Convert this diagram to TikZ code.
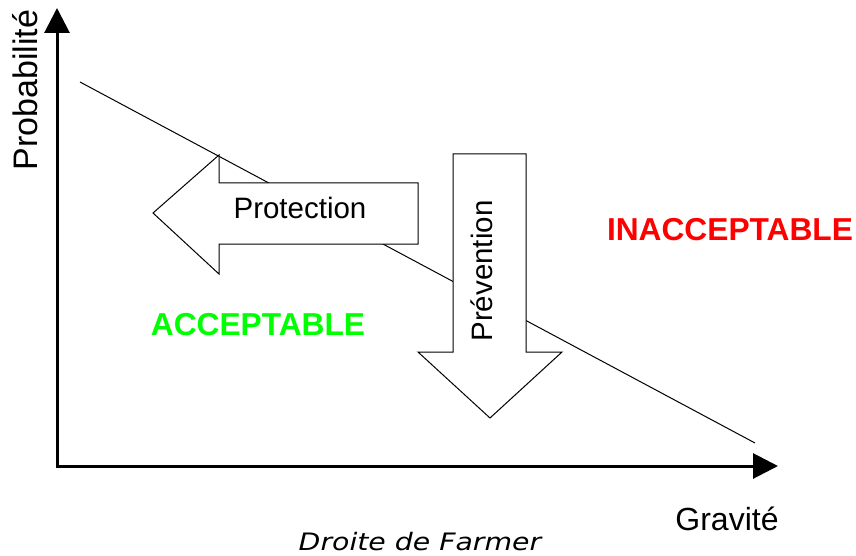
\documentclass[tikz,border=0pt]{standalone}
\usepackage{fontspec}
\setmainfont{Liberation Sans}
\newfontfamily\capfont{DejaVu Sans}
\usetikzlibrary{arrows.meta}
\tikzset{
  axis/.style={line width=3pt,-{Triangle[length=25pt,width=25pt]}},
  blockarrow/.style={draw=black,fill=white,line width=1pt,line join=miter},
  lbl/.style={inner sep=0pt,font=\fontsize{29.5}{30}\selectfont},
  axlbl/.style={inner sep=0pt,font=\fontsize{32}{33}\selectfont},
  zone/.style={inner sep=0pt,font=\fontsize{31.7}{32}\selectfont\bfseries},
}
\begin{document}
\begin{tikzpicture}[x=1pt,y=-1pt]
\useasboundingbox (0,0) rectangle (856,556);
\coordinate (o) at (57,466);
\coordinate (ytip) at (57,8);
\coordinate (xtip) at (778,466);
\draw[axis] (57,467.5) -- (ytip);
\draw[axis] (55.5,466) -- (xtip);
% Farmer line
\coordinate (l1) at (80,82);
\coordinate (l2) at (755,443);
\draw[line width=1pt] (l1) -- (l2);
% Protection arrow
\draw[blockarrow] (418,183) -- (219,183) -- (219,155) -- (153,213) -- (219,274) -- (219,244) -- (418,244) -- cycle;
\node[lbl] (prot) at (300,208) {Protection};
% Prevention arrow
\draw[blockarrow] (453,154) -- (526,154) -- (526,352) -- (562,352) -- (490,418) -- (418,352) -- (453,352) -- cycle;
\node[lbl,rotate=90] (prev) at (482,271) {Prévention};
% labels
\node[axlbl,font=\fontsize{34}{35}\selectfont,rotate=90] (proba) at (25,90) {Probabilité};
\node[axlbl] (grav) at (727,519) {Gravité};
\node[zone,text={rgb,255:red,0;green,255;blue,0}] (acc) at (258,325) {ACCEPTABLE};
\node[zone,text=red] (inacc) at (730,230) {INACCEPTABLE};
\node[inner sep=0pt,xscale=1.18,font=\capfont\itshape\fontsize{24}{26}\selectfont] (cap) at (420,542) {Droite de Farmer};
\end{tikzpicture}
\end{document}
